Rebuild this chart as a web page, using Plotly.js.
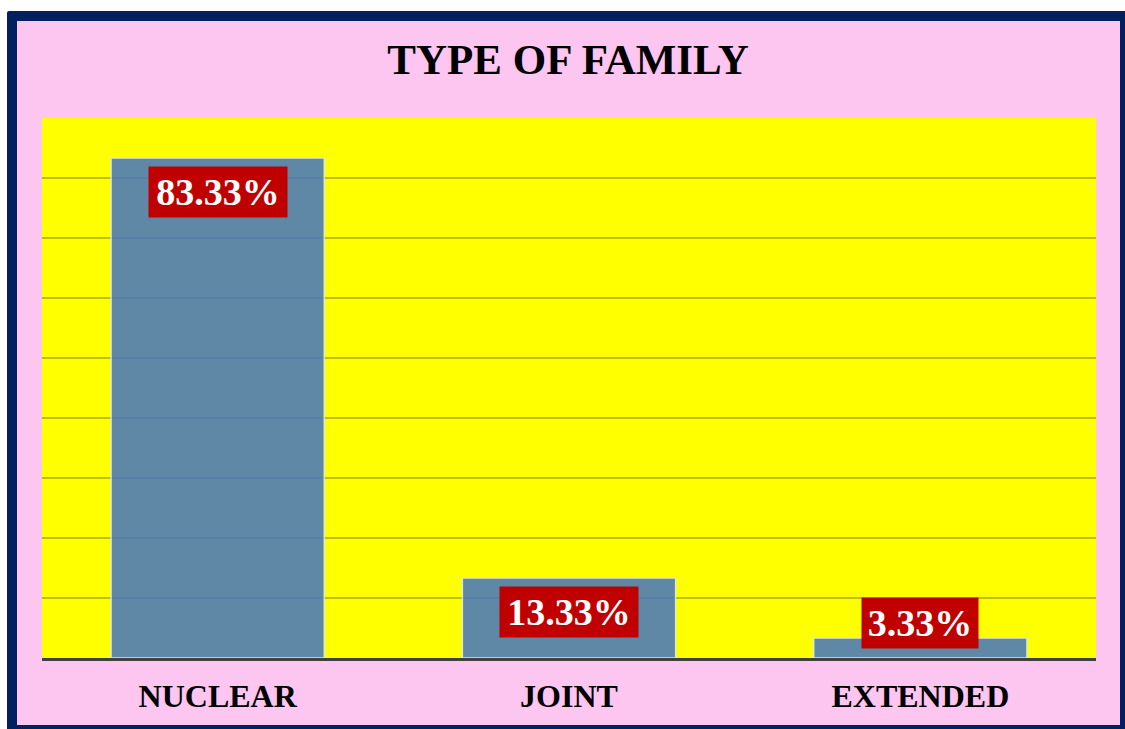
<!DOCTYPE html>
<html>
<head>
<meta charset="utf-8">
<script src="https://cdn.plot.ly/plotly-3.0.1.min.js"></script>
<style>
  html, body { margin: 0; padding: 0; width: 1125px; height: 729px; overflow: hidden; background: #ffffff; }
  #frame { position: absolute; left: 7px; top: 11px; width: 1103px; height: 704px; background: #FCC6F0; border: 10px solid #002060; border-radius: 2px; }
  #chart { position: absolute; left: 0; top: 0; width: 1125px; height: 729px; }
</style>
</head>
<body>
<div id="frame"></div>
<div id="chart"></div>
<script>
const categories = ["NUCLEAR", "JOINT", "EXTENDED"];
const values = [83.33, 13.33, 3.33];
const labels = ["83.33%", "13.33%", "3.33%"];

const serif = "'Liberation Serif', 'Times New Roman', serif";

const trace = {
  type: "bar",
  x: categories,
  y: values,
  marker: { color: "#4A78BF", opacity: 0.88, line: { color: "#DCE3EC", width: 1.5 } },
  hoverinfo: "skip"
};

const pxPerUnit = 540 / 90;
const annotations = values.map((v, i) => {
  const fits = v * pxPerUnit > 70;
  return {
    x: categories[i],
    y: fits ? v : 0,
    xref: "x", yref: "y",
    yanchor: fits ? "top" : "bottom",
    yshift: fits ? -8 : 9,
    text: "<b>" + labels[i] + "</b>",
    showarrow: false,
    bgcolor: "#C00000",
    borderpad: 4,
    width: labels[i].length > 5 ? 130 : 108,
    height: 42,
    font: { family: serif, size: 38, color: "#ffffff" }
  };
});

const layout = {
  width: 1125, height: 729,
  paper_bgcolor: "rgba(0,0,0,0)",
  plot_bgcolor: "#FFFF00",
  margin: { l: 42, r: 29, t: 118, b: 71 },
  title: {
    text: "<b>TYPE OF FAMILY</b>",
    font: { family: serif, size: 43, color: "#000000" },
    x: 0.505, xanchor: "center",
    y: 1 - 59 / 729, yanchor: "middle", yref: "container"
  },
  bargap: 0.393,
  showlegend: false,
  xaxis: {
    showline: true, linecolor: "#404040", linewidth: 3,
    ticks: "", showgrid: false,
    tickfont: { family: serif, size: 32, color: "#000000" },
    ticklabelstandoff: 8,
    tickprefix: "<b>", ticksuffix: "</b>"
  },
  yaxis: {
    range: [0, 90], dtick: 10,
    showticklabels: false, ticks: "",
    showgrid: true, gridcolor: "rgba(140,140,0,0.55)", gridwidth: 1.5,
    zeroline: false, showline: false
  },
  annotations: annotations
};

Plotly.newPlot("chart", [trace], layout, { displayModeBar: false, staticPlot: true });
</script>
</body>
</html>
